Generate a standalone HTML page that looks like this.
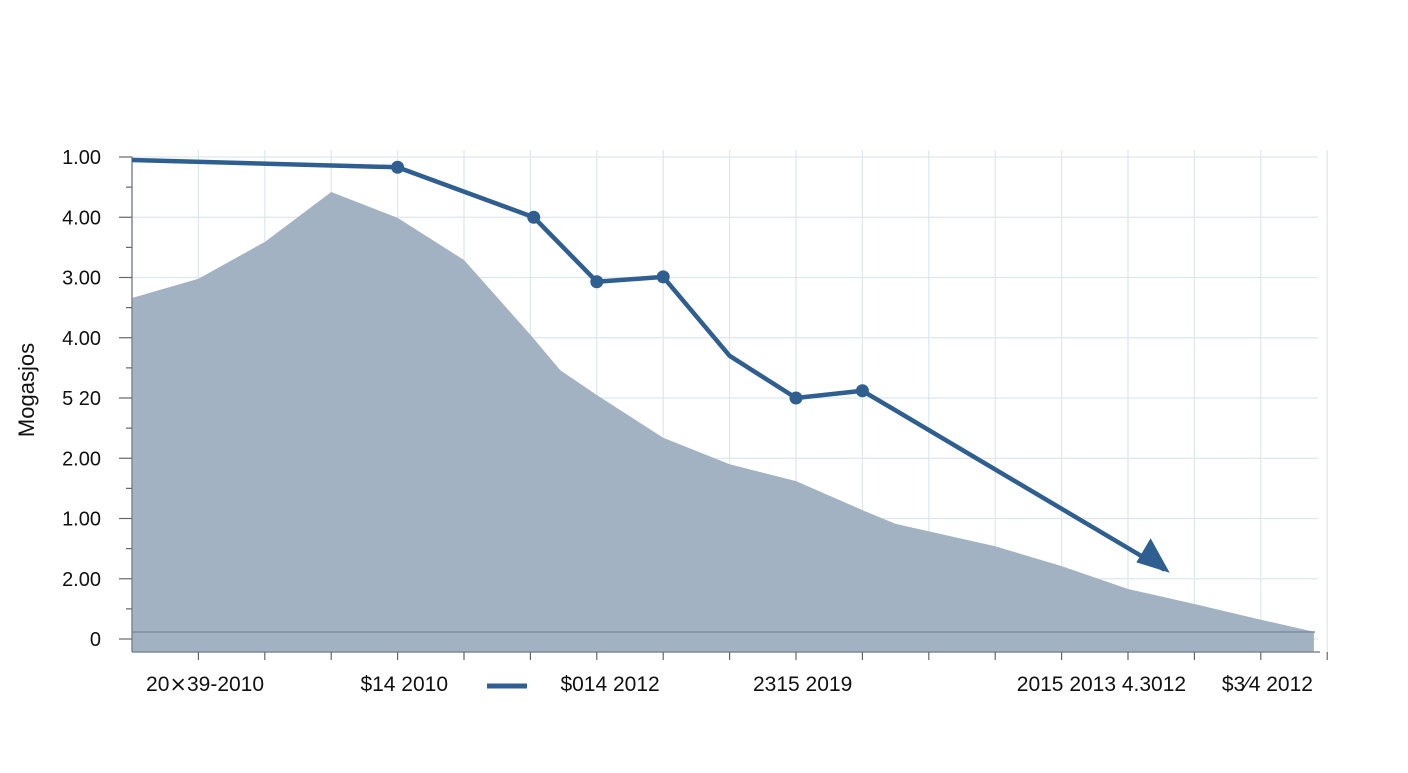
<!DOCTYPE html>
<html><head><meta charset="utf-8"><style>
body{margin:0;background:#fff;width:1408px;height:768px;overflow:hidden;font-family:"Liberation Sans",sans-serif}
svg text{font-family:"Liberation Sans",sans-serif;fill:#111}
</style></head><body>
<svg id="chart" width="1408" height="768" viewBox="0 0 1408 768"></svg>
<script>
const yTickLabels=["0","2.00","1.00","2.00","5 20","4.00","3.00","4.00","1.00"];
const xTickLabels=["20⨯39-2010","$14 2010","$014 2012","2315 2019","2015 2013 4.3012","$3⁄4 2012"];
const xLabelPos=[1.1,4.1,7.2,10.1,14.6,17.1];
const areaX=[0,1,2,3,4,5,6,6.45,7,8,9,10,11,11.5,13,14,15,16,17,17.8];
const areaV=[5.66,5.98,6.59,7.42,6.99,6.29,5.05,4.46,4.05,3.34,2.90,2.62,2.14,1.91,1.54,1.21,0.83,0.58,0.32,0.12];
const lineX=[0,4,6.05,7,8,9,10,11,15.55];
const lineV=[7.95,7.83,7.0,5.93,6.01,4.70,4.0,4.12,1.15];
const markerIdx=[1,2,3,4,6,7];
const NS="http://www.w3.org/2000/svg",svg=document.getElementById("chart");
const X0=132,DX=66.4,Y0=639,DY=60.25;
const xs=i=>X0+i*DX, ys=v=>Y0-v*DY;
function el(t,a,p){const e=document.createElementNS(NS,t);for(const k in a)e.setAttribute(k,a[k]);(p||svg).appendChild(e);return e;}
for(let i=0;i<=8;i++){const g=el("line",{x1:X0,x2:1318,y1:ys(i),y2:ys(i),stroke:"#dde7ee","stroke-width":1.2});

}
for(let i=1;i<=18;i++){const g=el("line",{x1:xs(i),x2:xs(i),y1:150,y2:652,stroke:"#dde7ee","stroke-width":1.2});

}
let d="M"+xs(areaX[0])+","+652;
areaX.forEach((x,i)=>d+=" L"+xs(x)+","+ys(areaV[i]));
d+=" L"+xs(areaX[areaX.length-1])+",652 Z";
const ar=el("path",{d:d,fill:"#a3b2c3"});


const base=el("line",{x1:X0,x2:1315,y1:632,y2:632,stroke:"#7a8ea3","stroke-width":1.5});


const ay=el("line",{x1:X0,x2:X0,y1:157,y2:652,stroke:"#7d8a97","stroke-width":1.5});


const ax=el("line",{x1:X0,x2:1320,y1:652,y2:652,stroke:"#7d8a97","stroke-width":1.5});


for(let i=0;i<=16;i++){const v=i/2;el("line",{x1:i%2?126:119,x2:X0,y1:ys(v),y2:ys(v),stroke:"#666","stroke-width":1.2});}
for(let i=1;i<=18;i++)el("line",{x1:xs(i),x2:xs(i),y1:652,y2:660,stroke:"#666","stroke-width":1.2});
yTickLabels.forEach((t,i)=>{const e=el("text",{x:101,y:ys(i)+7,"text-anchor":"end","font-size":20});e.textContent=t;

});
xTickLabels.forEach((t,i)=>{const e=el("text",{x:xs(xLabelPos[i]),y:691,"text-anchor":"middle","font-size":21});e.textContent=t;

});
const yt=el("text",{x:34,y:390,"text-anchor":"middle","font-size":22,transform:"rotate(-90 34 390)"});yt.textContent="Mogasjos";


const lg=el("line",{x1:487,x2:527,y1:686,y2:686,stroke:"#2f5f90","stroke-width":5});


const pts=lineX.map((x,i)=>xs(x)+","+ys(lineV[i])).join(" ");
const pl=el("polyline",{points:pts,fill:"none",stroke:"#2f5f90","stroke-width":4.5,"stroke-linejoin":"round"});


markerIdx.forEach(i=>{const c=el("circle",{cx:xs(lineX[i]),cy:ys(lineV[i]),r:6.5,fill:"#2f5f90"});

});
const n=lineX.length-1,ex=xs(lineX[n]),ey=ys(lineV[n]),px=xs(lineX[n-1]),py=ys(lineV[n-1]);
const ang=Math.atan2(ey-py,ex-px),L=34,W=20;
const tx=ex+Math.cos(ang)*6,ty=ey+Math.sin(ang)*6;
const bx=tx-Math.cos(ang)*L,by=ty-Math.sin(ang)*L;
const ah=el("polygon",{points:`${tx},${ty} ${bx+Math.sin(ang)*W},${by-Math.cos(ang)*W} ${bx-Math.sin(ang)*W*0.4},${by+Math.cos(ang)*W*0.4}`,fill:"#2f5f90"});


</script>
</body></html>
